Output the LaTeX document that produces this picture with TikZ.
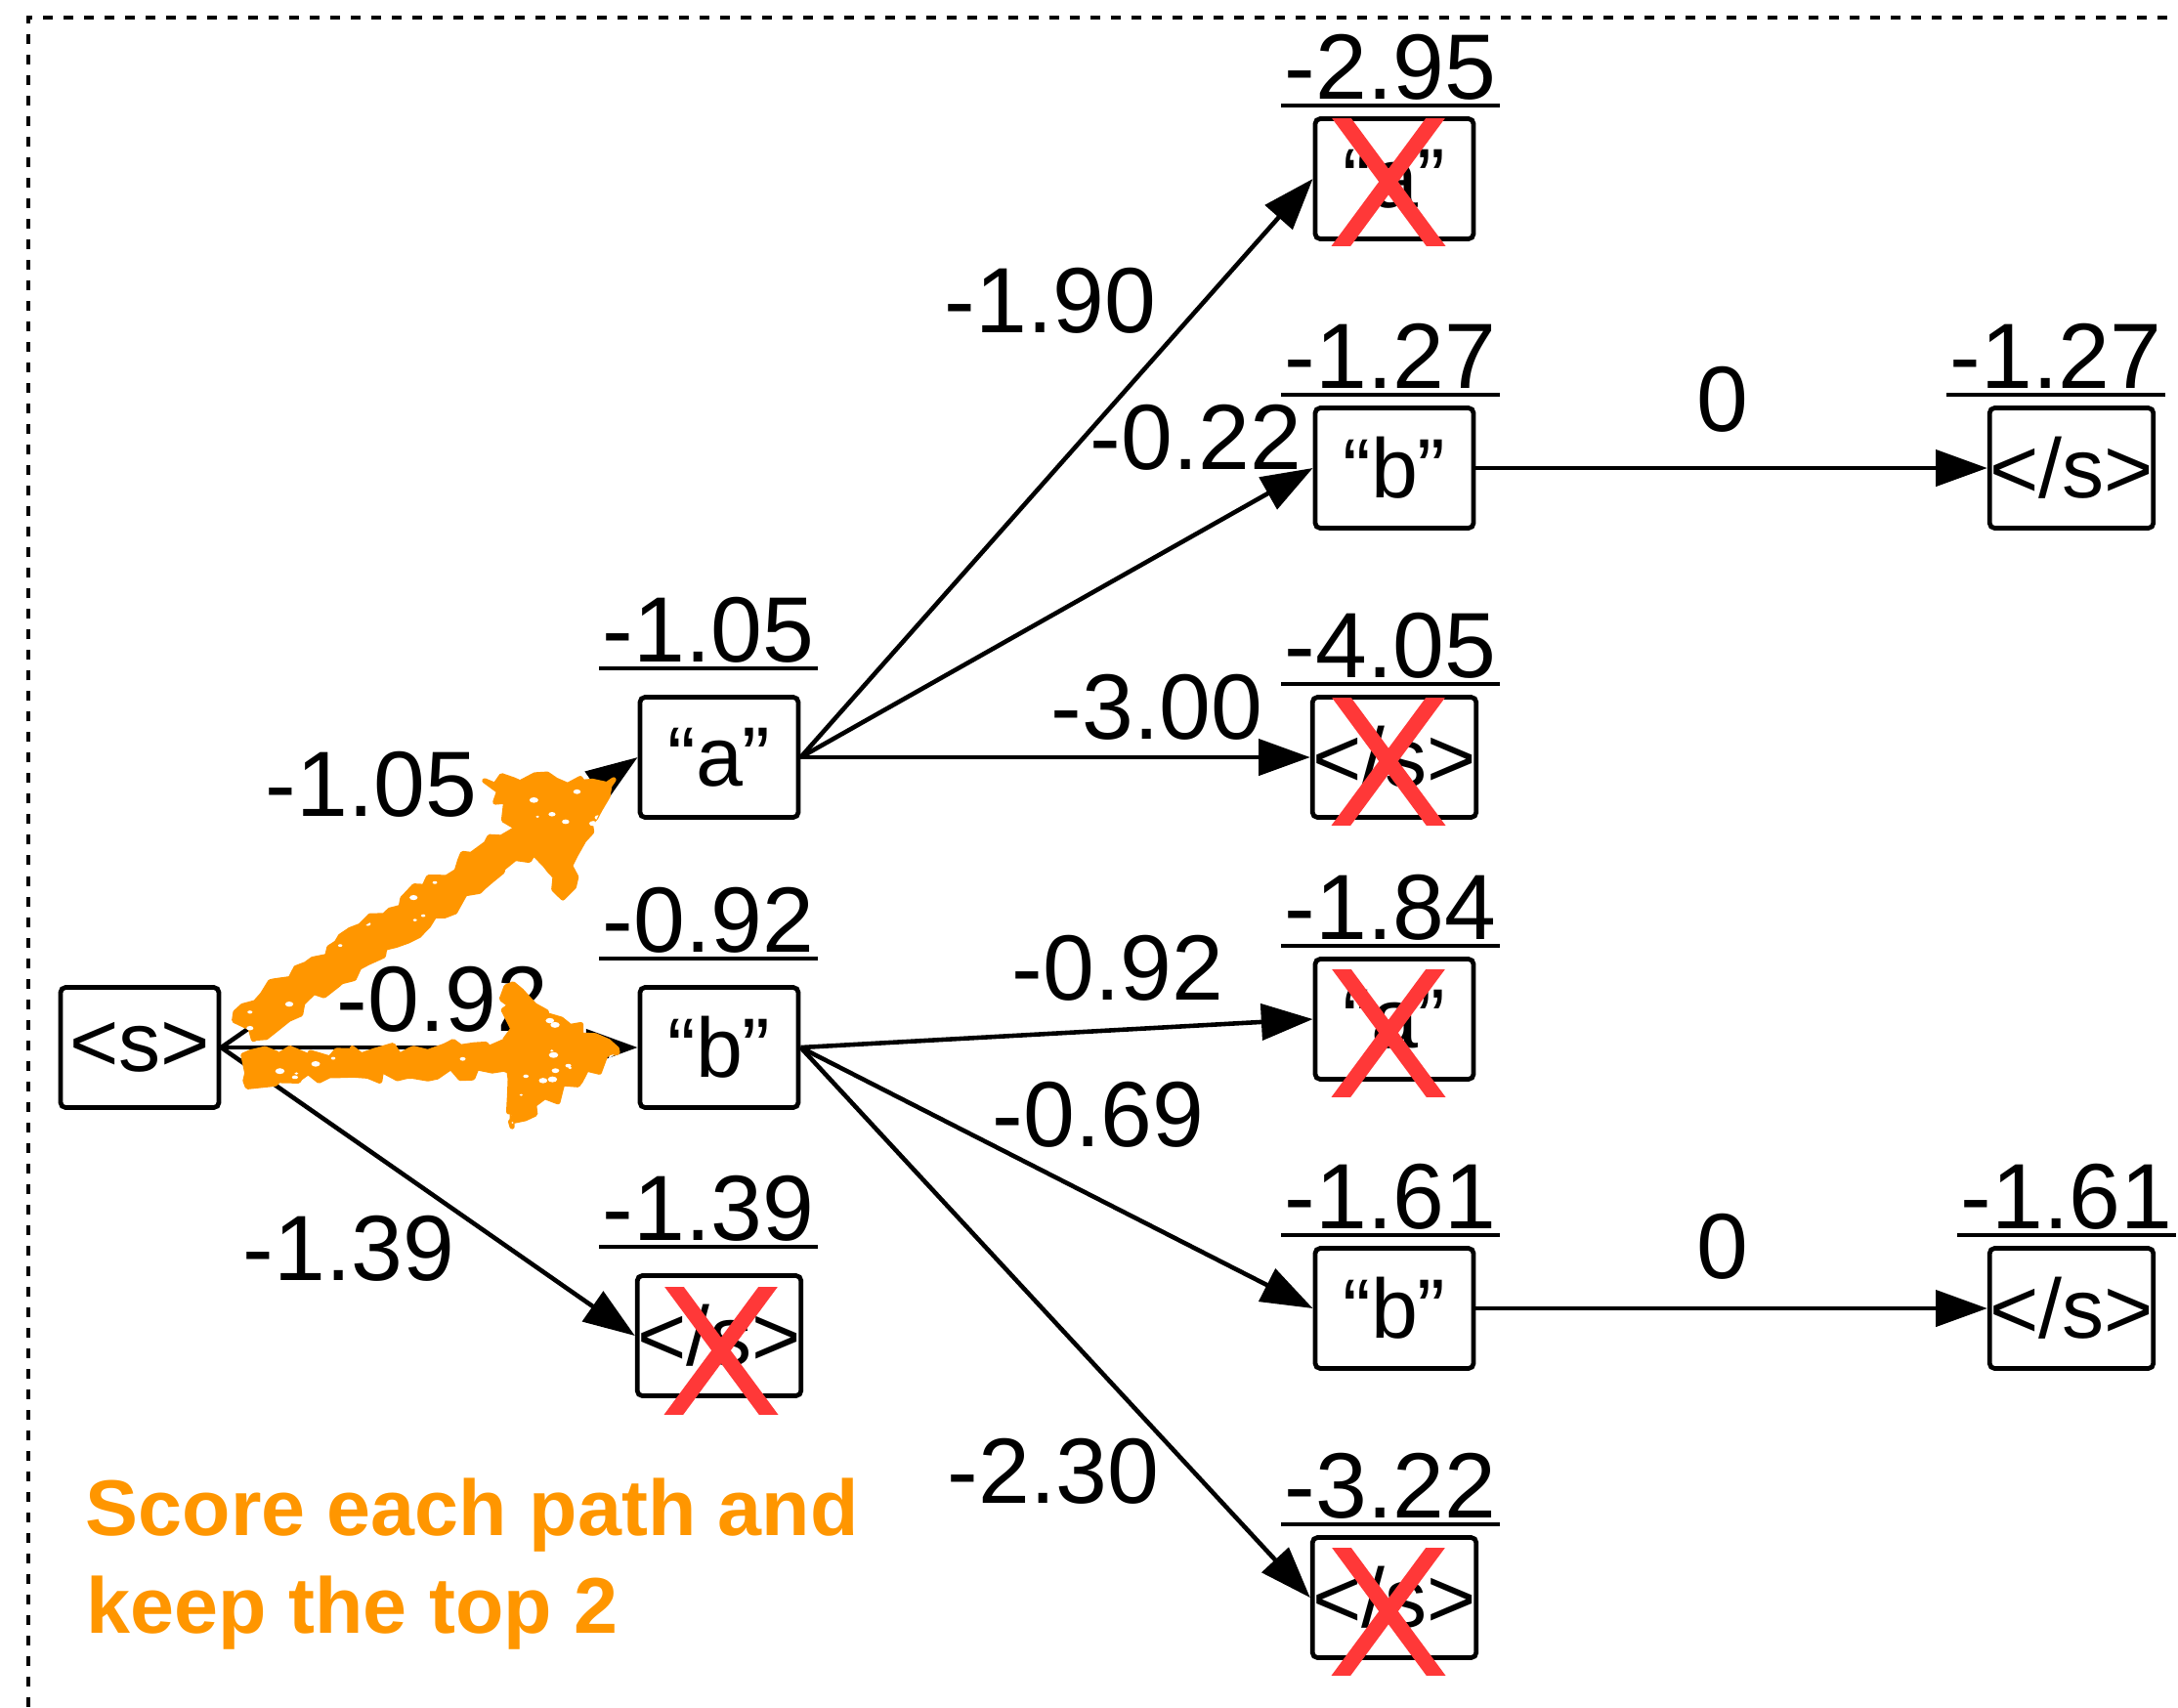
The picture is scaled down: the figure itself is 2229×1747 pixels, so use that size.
\documentclass[tikz,border=0pt]{standalone}
\usepackage{fontspec}
\setmainfont{Liberation Sans}
\usetikzlibrary{arrows.meta,calc,decorations.pathmorphing}

\definecolor{markorange}{RGB}{255,150,0}
\definecolor{crossred}{RGB}{255,56,56}

\newcommand{\lblfont}{\fontsize{27pt}{32pt}\selectfont}
\newcommand{\tokfont}{\fontsize{24.5pt}{29pt}\selectfont}
\newcommand{\notefont}{\fontsize{23pt}{28pt}\selectfont\bfseries}

% red cross over a pruned hypothesis: #1 node, (#2,#3) offset of the cross centre
\newcommand{\strikebox}[3]{%
  \begin{scope}
    \clip ($(#1)+(#2,#3)+(-120,-65)$) rectangle ($(#1)+(#2,#3)+(120,65)$);
    \draw[xstroke] ($(#1)+(#2,#3)+(-72,-97.5)$) -- ($(#1)+(#2,#3)+(72,97.5)$);
    \draw[xstroke] ($(#1)+(#2,#3)+(72,-97.5)$) -- ($(#1)+(#2,#3)+(-72,97.5)$);
  \end{scope}}

% crayon-like speckles inside a region: #1 clip path, #2..#5 bounding box
\newcommand{\speckle}[5]{%
  \begin{scope}
    \clip #1;
    \foreach \k in {1,...,70}{
      \pgfmathsetmacro{\px}{#2+rnd*(#4-#2)}
      \pgfmathsetmacro{\py}{#3+rnd*(#5-#3)}
      \pgfmathsetmacro{\pr}{1+2*rnd}
      \fill[white] (\px,\py) ellipse ({\pr*1.6} and \pr);
    }
  \end{scope}}

\begin{document}
\begin{tikzpicture}[x=0.01cm,y=-0.01cm,
  tok/.style={draw, line width=1.35pt, rounded corners=1.5pt, minimum width=1.62cm,
    minimum height=1.23cm, inner sep=0pt, font=\tokfont},
  score/.style={anchor=south, inner xsep=0pt, inner ysep=0.06cm, minimum width=2.22cm,
    text depth=0pt, font=\lblfont},
  uline/.style={line width=1.35pt},
  wlabel/.style={anchor=base, inner sep=0pt, font=\lblfont},
  conn/.style={line width=1.3pt, -{Triangle[length=15pt,width=10.5pt]}},
  xstroke/.style={line width=4.5pt, crossred},
  note/.style={anchor=base west, inner sep=0pt, font=\notefont, text=markorange},
  fat/.style={fill=markorange, draw=markorange, line width=1.5pt, line join=round,
    decorate, decoration={random steps, segment length=3pt, amplitude=1.8pt}},
  frame/.style={line width=1.2pt, dash pattern=on 0.1cm off 0.11cm}
]
\useasboundingbox (0,0) rectangle (2229,1747);

% dotted frame (top and left edges)
\draw[frame] (29,1747) -- (29,18) -- (2229,18);

% hypotheses
\node[tok] (s)  at (143,1072) {<s>};
\node[tok] (a1) at (736,775)  {“a”};
\node[tok] (b1) at (736,1072) {“b”};
\node[tok] (e1) at (736,1367) {</s>};
\node[tok] (a2) at (1427,183)  {“a”};
\node[tok] (b2) at (1427,479)  {“b”};
\node[tok] (e2) at (1427,775)  {</s>};
\node[tok] (a3) at (1427,1043) {“a”};
\node[tok] (b3) at (1427,1339) {“b”};
\node[tok] (e3) at (1427,1635) {</s>};
\node[tok] (f1) at (2120,479)  {</s>};
\node[tok] (f2) at (2120,1339) {</s>};

% accumulated path scores
\node[score] (sa1) at ($(a1.north)+(-11,-27)$) {-1.05};
\node[score] (sb1) at ($(b1.north)+(-11,-27)$) {-0.92};
\node[score] (se1) at ($(e1.north)+(-11,-27)$) {-1.39};
\node[score] (sa2) at ($(a2.north)+(-4,-11)$) {-2.95};
\node[score] (sb2) at ($(b2.north)+(-4,-11)$) {-1.27};
\node[score] (se2) at ($(e2.north)+(-4,-11)$) {-4.05};
\node[score] (sa3) at ($(a3.north)+(-4,-11)$) {-1.84};
\node[score] (sb3) at ($(b3.north)+(-4,-11)$) {-1.61};
\node[score] (se3) at ($(e3.north)+(-4,-11)$) {-3.22};
\node[score] (sf1) at ($(f1.north)+(-16,-11)$) {-1.27};
\node[score] (sf2) at ($(f2.north)+(-5,-11)$) {-1.61};
\foreach \n in {sa1,sb1,se1,sa2,sb2,se2,sa3,sb3,se3,sf1,sf2}
  \draw[uline] (\n.south west) -- (\n.south east);

% expansions
\draw[conn] (s.east) -- (a1.west);
\draw[conn] (s.east) -- (b1.west);
\draw[conn] (s.east) -- (e1.west);
\draw[conn] (a1.east) -- (a2.west);
\draw[conn] (a1.east) -- (b2.west);
\draw[conn] (a1.east) -- (e2.west);
\draw[conn] (b1.east) -- (a3.west);
\draw[conn] (b1.east) -- (b3.west);
\draw[conn] (b1.east) -- (e3.west);
\draw[conn] (b2.east) -- (f1.west);
\draw[conn] (b3.east) -- (f2.west);

% step log-probabilities
\node[wlabel] (ls1) at (380,835)   {-1.05};
\node[wlabel] (ls2) at (453,1055)  {-0.92};
\node[wlabel] (ls3) at (357,1310)  {-1.39};
\node[wlabel] (la1) at (1075,340)  {-1.90};
\node[wlabel] (la2) at (1224,480)  {-0.22};
\node[wlabel] (la3) at (1184,756)  {-3.00};
\node[wlabel] (lb1) at (1144,1023) {-0.92};
\node[wlabel] (lb2) at (1124,1173) {-0.69};
\node[wlabel] (lb3) at (1078,1538) {-2.30};
\node[wlabel] (lf1) at (1763,441)  {0};
\node[wlabel] (lf2) at (1763,1308) {0};

% pruned hypotheses
\strikebox{a2}{-6}{3}
\strikebox{e2}{-6}{4}
\strikebox{a3}{-6}{14}
\strikebox{e3}{-6}{14}
\strikebox{e1}{2}{15}

% hand-drawn highlight arrows for the two kept beams
\pgfmathsetseed{7}
\path[fat] (241,1036) -- (527,845) -- (496,799) -- (628,798) -- (576,919)
  -- (546,873) -- (259,1064) -- cycle;
\path[fat] (249,1080) -- (520,1070) -- (518,1010) -- (632,1077) -- (524,1153)
  -- (521,1096) -- (251,1106) -- cycle;
\speckle{(241,1036) -- (527,845) -- (496,799) -- (628,798) -- (576,919)
  -- (546,873) -- (259,1064) -- cycle}{241}{798}{628}{1064}
\speckle{(249,1080) -- (520,1070) -- (518,1010) -- (632,1077) -- (524,1153)
  -- (521,1096) -- (251,1106) -- cycle}{249}{1010}{632}{1153}

% note
\node[note] (n1) at (87,1571) {Score each path and};
\node[note] (n2) at (88,1671) {keep the top 2};
\end{tikzpicture}
\end{document}
